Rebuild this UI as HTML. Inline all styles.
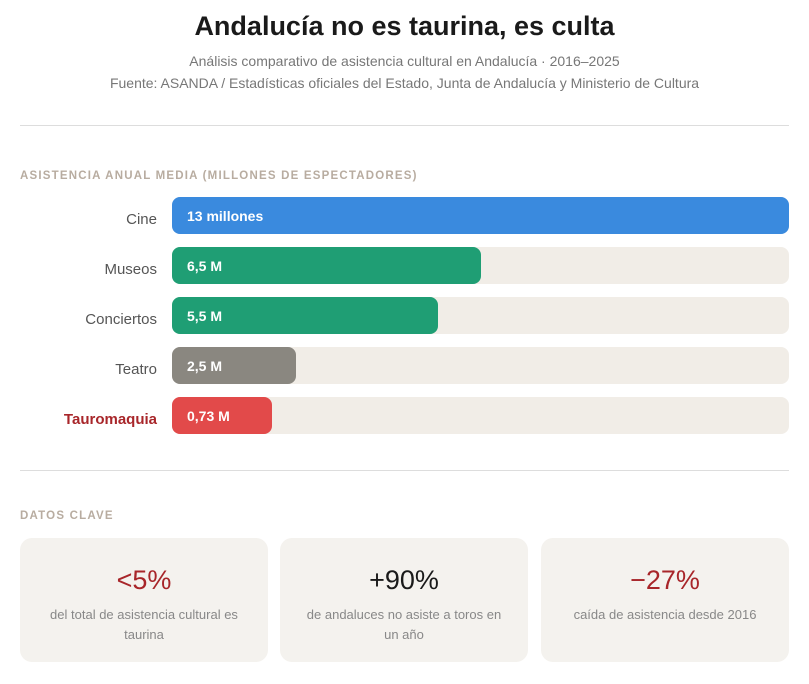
<!DOCTYPE html>
<html><head><meta charset="utf-8"><style>
*{margin:0;padding:0;box-sizing:border-box}
body{width:809px;height:684px;background:#fff;font-family:"Liberation Sans","DejaVu Sans",sans-serif;position:relative;overflow:hidden}
h1{position:absolute;left:0;width:809px;top:11px;text-align:center;font-size:27px;font-weight:bold;color:#1a1a1a}
.sub{position:absolute;left:0;width:809px;text-align:center;font-size:14px;color:#777}
.hr{position:absolute;left:20px;width:769px;height:1px;background:#ddd}
.sec{position:absolute;left:20px;font-size:11.5px;font-weight:bold;letter-spacing:1.2px;color:#b8aca0}
.lab{position:absolute;left:0;width:157px;text-align:right;font-size:15px;color:#555;line-height:37px;padding-top:4px}
.track{position:absolute;left:172px;width:617px;height:37px;border-radius:8px;background:#f1ede7}
.bar{position:absolute;left:0;top:0;height:37px;border-radius:8px;color:#fff;font-weight:bold;font-size:14px;line-height:39px;padding-left:15px;white-space:nowrap}
.card{position:absolute;top:538px;height:124px;border-radius:12px;background:#f4f2ee;text-align:center}
.big{position:absolute;left:0;right:0;top:26px;font-size:27px;line-height:32px}
.txt{position:absolute;left:20px;right:20px;top:67px;font-size:13px;line-height:20px;color:#888}
</style></head><body>
<h1>Andalucía no es taurina, es culta</h1>
<div class="sub" style="top:53px">Análisis comparativo de asistencia cultural en Andalucía · 2016–2025</div>
<div class="sub" style="top:75px">Fuente: ASANDA / Estadísticas oficiales del Estado, Junta de Andalucía y Ministerio de Cultura</div>
<div class="hr" style="top:125px"></div>
<div class="sec" style="top:170px">ASISTENCIA ANUAL MEDIA (MILLONES DE ESPECTADORES)</div>

<div class="lab" style="top:197px">Cine</div>
<div class="track" style="top:197px"><div class="bar" style="width:617px;background:#3a8ade">13 millones</div></div>
<div class="lab" style="top:247px">Museos</div>
<div class="track" style="top:247px"><div class="bar" style="width:309px;background:#1f9e74">6,5 M</div></div>
<div class="lab" style="top:297px">Conciertos</div>
<div class="track" style="top:297px"><div class="bar" style="width:266px;background:#1f9e74">5,5 M</div></div>
<div class="lab" style="top:347px">Teatro</div>
<div class="track" style="top:347px"><div class="bar" style="width:124px;background:#8a8780">2,5 M</div></div>
<div class="lab" style="top:397px;color:#a8262a;font-weight:bold">Tauromaquia</div>
<div class="track" style="top:397px"><div class="bar" style="width:100px;background:#e24a4a">0,73 M</div></div>

<div class="hr" style="top:470px"></div>
<div class="sec" style="top:510px">DATOS CLAVE</div>
<div class="card" style="left:20px;width:248px"><div class="big" style="color:#a8262a">&lt;5%</div><div class="txt">del total de asistencia cultural es taurina</div></div>
<div class="card" style="left:280px;width:248px"><div class="big" style="color:#1a1a1a">+90%</div><div class="txt">de andaluces no asiste a toros en un año</div></div>
<div class="card" style="left:541px;width:248px"><div class="big" style="color:#a8262a">−27%</div><div class="txt">caída de asistencia desde 2016</div></div>
</body></html>
